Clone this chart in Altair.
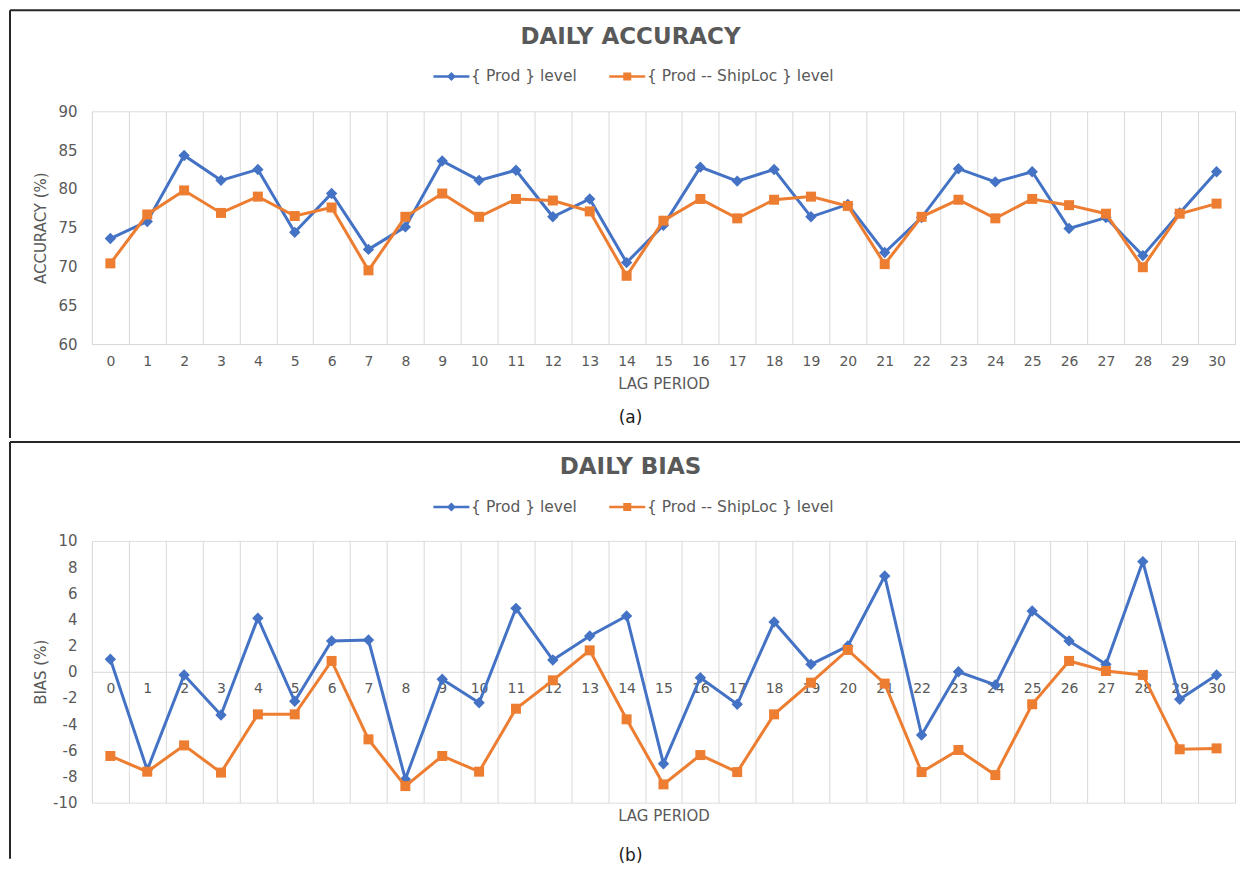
import altair as alt
import pandas as pd

# ---------------- data ----------------
LAGS = list(range(31))
SERIES = ["{ Prod } level", "{ Prod -- ShipLoc } level"]

ACC_PROD = [73.6, 75.8, 84.3, 81.1, 82.5, 74.4, 79.4, 72.2, 75.1, 83.6, 81.1,
            82.4, 76.4, 78.7, 70.5, 75.3, 82.8, 81.0, 82.5, 76.4, 78.0, 71.8,
            76.3, 82.6, 80.9, 82.2, 74.9, 76.3, 71.4, 76.9, 82.2]
ACC_SHIP = [70.4, 76.7, 79.8, 76.9, 79.0, 76.5, 77.6, 69.5, 76.4, 79.4, 76.4,
            78.7, 78.5, 77.1, 68.8, 75.9, 78.7, 76.2, 78.6, 79.0, 77.8, 70.3,
            76.4, 78.6, 76.2, 78.7, 77.9, 76.8, 69.9, 76.8, 78.1]
BIAS_PROD = [0.96, -7.5, -0.24, -3.3, 4.1, -2.25, 2.36, 2.43, -8.2, -0.57, -2.36,
             4.85, 0.9, 2.74, 4.27, -7.02, -0.45, -2.48, 3.8, 0.57, 1.97, 7.32,
             -4.83, 0.0, -1.0, 4.65, 2.36, 0.57, 8.42, -2.1, -0.24]
BIAS_SHIP = [-6.43, -7.63, -5.62, -7.7, -3.25, -3.25, 0.83, -5.16, -8.73, -6.43,
             -7.63, -2.82, -0.65, 1.64, -3.63, -8.6, -6.36, -7.66, -3.25, -0.83,
             1.67, -0.9, -7.66, -5.97, -7.89, -2.48, 0.83, 0.06, -0.24, -5.92, -5.85]

ACC_TICKS = [60, 65, 70, 75, 80, 85, 90]
BIAS_TICKS = [-10, -8, -6, -4, -2, 0, 2, 4, 6, 8, 10]

TITLE_A = "DAILY ACCURACY"
TITLE_B = "DAILY BIAS"
YTITLE_A = "ACCURACY (%)"
YTITLE_B = "BIAS (%)"
XTITLE = "LAG PERIOD"
TAG_A = "(a)"
TAG_B = "(b)"

# ---------------- style ----------------
BLUE = "#4472C4"
ORANGE = "#ED7D31"
GRAY_TXT = "#595959"
GRID = "#d9d9d9"
FRAME = "#262626"
FONT = "DejaVu Sans"

W = 1144
H_A = 233
H_B = 262

# legend symbols: line with marker (custom svg paths)
PATH_DIAMOND = ("M-1,-0.25L1.95,-0.25L2.6,-0.9L3.25,-0.25L6.2,-0.25L6.2,0.25"
                "L3.25,0.25L2.6,0.9L1.95,0.25L-1,0.25Z")
PATH_SQUARE = ("M-1,-0.25L1.8,-0.25L1.8,-0.8L3.4,-0.8L3.4,-0.25L6.2,-0.25L6.2,0.25"
               "L3.4,0.25L3.4,0.8L1.8,0.8L1.8,0.25L-1,0.25Z")


def make_df(prod, ship):
    rows = []
    for s, vals in zip(SERIES, [prod, ship]):
        for lag, v in zip(LAGS, vals):
            rows.append({"lag": lag, "series": s, "value": v})
    return pd.DataFrame(rows)


def make_panel(df, title, ytitle, tag, ydomain, yticks, H, zero_axis, frame_top, frame_bottom,
               legend_y, tag_y, xtitle_y):
    one = pd.DataFrame({"k": [0]})
    if zero_axis:
        offset = -H * (0 - ydomain[0]) / (ydomain[1] - ydomain[0])
    else:
        offset = 0
    x_axis = alt.Axis(
        title=XTITLE, tickBand="extent", grid=True, gridColor=GRID, gridWidth=1,
        domain=True, domainColor=GRID, domainWidth=1, ticks=False,
        labelAngle=0, labelFontSize=14, labelColor=GRAY_TXT, labelPadding=10,
        titleFontSize=15, titleFontWeight="normal", titleColor=GRAY_TXT,
        titleBaseline="middle", titleY=xtitle_y, offset=offset,
    )
    x = alt.X("lag:O", scale=alt.Scale(type="band", domain=LAGS, paddingInner=0,
                                       paddingOuter=0), axis=x_axis)
    y = alt.Y("value:Q", scale=alt.Scale(domain=ydomain, nice=False, zero=False),
              axis=alt.Axis(title=ytitle, values=yticks, grid=False, domain=False,
                            ticks=False, labelFontSize=15, labelColor=GRAY_TXT,
                            labelPadding=15, labelExpr="toString(datum.value)",
                            titleFontSize=15, titleFontWeight="normal",
                            titleColor=GRAY_TXT, titleX=-51, titleY=H / 2,
                            titleBaseline="middle"))
    base = alt.Chart(df).encode(x=x, y=y)
    f_prod = alt.datum.series == SERIES[0]
    f_ship = alt.datum.series == SERIES[1]
    line_p = base.transform_filter(f_prod).mark_line(color=BLUE, strokeWidth=3)
    pts_p = base.transform_filter(f_prod).mark_point(shape="diamond", filled=True,
                                                     size=130, color=BLUE, opacity=1)
    line_s = base.transform_filter(f_ship).mark_line(color=ORANGE, strokeWidth=3)
    pts_s = base.transform_filter(f_ship).mark_point(shape="square", filled=True,
                                                     size=100, color=ORANGE, opacity=1)
    leg = alt.Legend(title=None, orient="none", legendX=339, legendY=legend_y,
                     direction="horizontal", labelFontSize=15.5, labelColor=GRAY_TXT,
                     labelFont=FONT, symbolSize=100, labelOffset=25, columnPadding=29,
                     labelLimit=400, padding=0, symbolStrokeWidth=0, symbolOpacity=1)
    legend_layer = base.transform_filter("datum.lag < 0").mark_point(
        filled=True, opacity=1).encode(
        color=alt.Color("series:N", scale=alt.Scale(domain=SERIES, range=[BLUE, ORANGE]),
                        legend=leg),
        shape=alt.Shape("series:N", scale=alt.Scale(domain=SERIES,
                                                    range=[PATH_DIAMOND, PATH_SQUARE]),
                        legend=leg),
    )
    frame_h = alt.Chart(one).mark_rule(color=FRAME, strokeWidth=2).encode(
        x=alt.value(-82), x2=alt.value(1149), y=alt.value(frame_top))
    frame_v = alt.Chart(one).mark_rule(color=FRAME, strokeWidth=2).encode(
        x=alt.value(-82), y=alt.value(frame_top), y2=alt.value(frame_bottom))
    title_t = alt.Chart(one).mark_text(font=FONT, fontSize=23, fontWeight="bold",
                                       color=GRAY_TXT, align="center",
                                       baseline="middle").encode(
        x=alt.value(539), y=alt.value(-74), text=alt.value(title))
    tag_t = alt.Chart(one).mark_text(font=FONT, fontSize=17, color="#1a1a1a",
                                     align="center", baseline="middle").encode(
        x=alt.value(539), y=alt.value(tag_y), text=alt.value(tag))
    return alt.layer(frame_h, frame_v, title_t, tag_t, line_p, pts_p, line_s, pts_s,
                     legend_layer).properties(width=W, height=H)


panel_a = make_panel(make_df(ACC_PROD, ACC_SHIP), TITLE_A, YTITLE_A, TAG_A, [60, 90],
                     ACC_TICKS, H_A, False, -101, 327, -43, 307, 39)
panel_b = make_panel(make_df(BIAS_PROD, BIAS_SHIP), TITLE_B, YTITLE_B, TAG_B, [-10, 10],
                     BIAS_TICKS, H_B, True, -99, 318, -42, 315, 144)

chart = alt.vconcat(panel_a, panel_b, spacing=0).resolve_scale(
    color="independent", shape="independent").properties(
    padding=0, background="white").configure_view(stroke=None).configure(font=FONT)

chart.save("out.html", embed_options={"renderer": "svg", "actions": False})
